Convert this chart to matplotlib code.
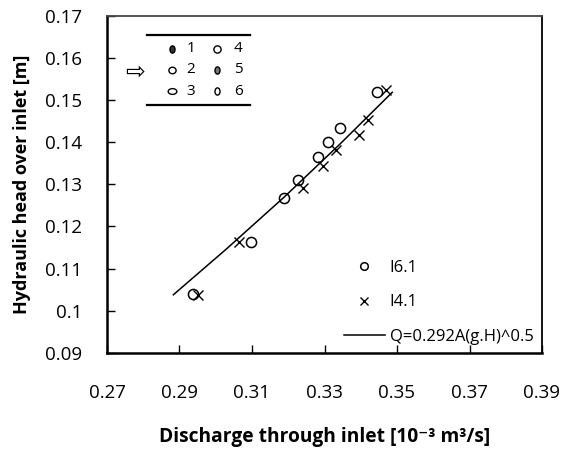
import matplotlib
matplotlib.use('Agg')
import matplotlib.pyplot as plt
from matplotlib.markers import MarkerStyle
from matplotlib.transforms import Affine2D

plt.rcParams['font.family'] = ['Open Sans', 'DejaVu Sans']

# ---- data ----
q_i61 = [0.2938, 0.3096, 0.3188, 0.3228, 0.3283, 0.3309, 0.3344, 0.3445]
h_i61 = [0.1039, 0.1162, 0.1268, 0.1310, 0.1364, 0.1399, 0.1433, 0.1518]
q_i41 = [0.2952, 0.3065, 0.3240, 0.3295, 0.3332, 0.3396, 0.3421, 0.3470]
h_i41 = [0.1038, 0.1162, 0.1291, 0.1343, 0.1381, 0.1417, 0.1452, 0.1523]
q_fit = [0.2883, 0.3030, 0.3188, 0.3340, 0.3487]
h_fit = [0.1038, 0.1147, 0.1269, 0.1393, 0.1518]

x_ticks = [0.27, 0.29, 0.31, 0.33, 0.35, 0.37, 0.39]
x_ticklabels = ["0.27", "0.29", "0.31", "0.33", "0.35", "0.37", "0.39"]
y_ticks = [0.09, 0.10, 0.11, 0.12, 0.13, 0.14, 0.15, 0.16, 0.17]
y_ticklabels = ["0.09", "0.1", "0.11", "0.12", "0.13", "0.14", "0.15", "0.16", "0.17"]

series_labels = ["I6.1", "I4.1", "Q=0.292A(g.H)^0.5"]
table_labels = [["1", "2", "3"], ["4", "5", "6"]]

fig = plt.figure(figsize=(5.62, 4.5), dpi=100)
ax = fig.add_axes([107/562, 1-353/450, 435/562, 337.5/450])

h1, = ax.plot(q_i61, h_i61, linestyle='none', marker='o', markersize=7.3,
              markerfacecolor='none', markeredgecolor='black', markeredgewidth=1.1,
              label=series_labels[0])
h2, = ax.plot(q_i41, h_i41, linestyle='none', marker='x', markersize=7,
              color='black', markeredgewidth=1.0, label=series_labels[1])
h3, = ax.plot(q_fit, h_fit, color='black', lw=1.1, label=series_labels[2])

ax.set_xlim(0.27, 0.39)
ax.set_ylim(0.09, 0.17)
ax.set_xticks(x_ticks)
ax.set_xticklabels(x_ticklabels)
ax.set_yticks(y_ticks)
ax.set_yticklabels(y_ticklabels)
ax.tick_params(axis='both', direction='in', length=6, width=1.0, labelsize=13.5,
               top=False, right=False)
ax.tick_params(axis='x', pad=22)
ax.tick_params(axis='y', pad=18)

for s in ['left', 'bottom']:
    ax.spines[s].set_linewidth(1.8)
for s in ['top', 'right']:
    ax.spines[s].set_linewidth(1.3)
ax.spines['top'].set_color('#444444')

ax.set_xlabel("Discharge through inlet [10⁻³ m³/s]", fontsize=13.8, fontweight='bold',
              labelpad=18)
ax.set_ylabel("Hydraulic head over inlet [m]", fontsize=13, fontweight='bold',
              labelpad=10)

leg = ax.legend(handles=[h1, h2, h3], loc='lower right', frameon=False,
                fontsize=12, handlelength=2.45, handletextpad=0.3,
                labelspacing=1.1, borderaxespad=0.1, borderpad=0.4,
                markerscale=0.75)

# ---- inset table of inlet shapes ----
tr = ax.transAxes
ax.plot([0.092, 0.329], [0.942, 0.942], transform=tr, color='black', lw=1.6, clip_on=False)
ax.plot([0.092, 0.329], [0.735, 0.735], transform=tr, color='black', lw=1.6, clip_on=False)
row_y = [0.901, 0.839, 0.776]
col_mx = [0.150, 0.254]
col_tx = [0.193, 0.302]
shapes = [
    [(0.7, 1.0, '#333333'), (1.0, 0.9, 'none'), (1.2, 0.8, 'none')],
    [(1.0, 1.0, 'none'), (0.7, 1.0, '#777777'), (0.7, 1.0, 'none')],
]
for c in range(2):
    for r in range(3):
        sx, sy, fc = shapes[c][r]
        ms = MarkerStyle('o', transform=Affine2D().scale(sx, sy))
        ax.plot([col_mx[c]], [row_y[r]], transform=tr, linestyle='none', marker=ms,
                markersize=5.2, markerfacecolor=fc, markeredgecolor='black',
                markeredgewidth=1.0, clip_on=False)
        ax.text(col_tx[c], row_y[r], table_labels[c][r], transform=tr, fontsize=11,
                ha='center', va='center')
ax.text(0.064, 0.833, "⇨", transform=tr, fontsize=17, ha='center', va='center',
        family=['DejaVu Sans'])

fig.savefig('out.png', dpi=100)
